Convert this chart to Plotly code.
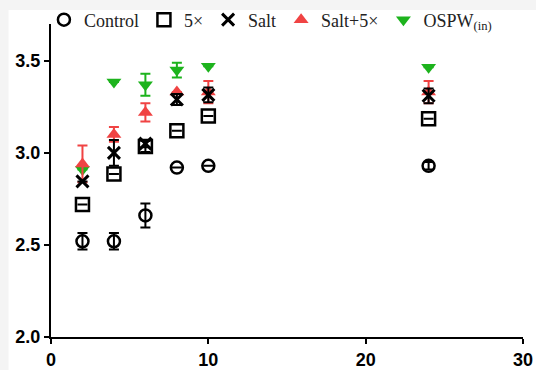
import plotly.graph_objects as go

hours = [2, 4, 6, 8, 10, 24]
control = [2.52, 2.52, 2.66, 2.92, 2.93, 2.93]
control_err = [0.045, 0.045, 0.065, 0.0, 0.0, 0.02]
fivex = [2.72, 2.885, 3.035, 3.12, 3.20, 3.185]
fivex_err = [0.0, 0.0, 0.03, 0.0, 0.0, 0.0]
salt = [2.845, 3.0, 3.05, 3.29, 3.315, 3.31]
salt_err = [0.0, 0.07, 0.02, 0.03, 0.04, 0.04]
salt5x = [2.94, 3.10, 3.22, 3.33, 3.33, 3.33]
salt5x_err = [0.10, 0.04, 0.05, 0.0, 0.06, 0.06]
ospw = [2.91, 3.385, 3.37, 3.45, 3.47, 3.465]
ospw_err = [0.0, 0.0, 0.06, 0.04, 0.0, 0.0]

names = ["Control", "5\u00d7", "Salt", "Salt+5\u00d7", "OSPW<sub>(in)</sub>"]

fig = go.Figure()

def add(y, err, name, symbol, color, size, lw, rank):
    fig.add_trace(go.Scatter(
        x=hours, y=y, name=name, mode="markers",
        marker=dict(symbol=symbol, size=size, color=color,
                    line=dict(color=color, width=lw)),
        error_y=dict(type="data", array=err, visible=True, color=color,
                     thickness=2, width=5),
        legendrank=rank,
    ))

add(ospw, ospw_err, names[4], "triangle-down", "#1db31d", 13, 0, 5)
add(salt5x, salt5x_err, names[3], "triangle-up", "#f04343", 13, 0, 4)
add(control, control_err, names[0], "circle-open", "black", 12, 2.5, 1)
add(fivex, fivex_err, names[1], "square-open", "black", 13, 2.5, 2)
add(salt, salt_err, names[2], "x-thin", "black", 12, 3, 3)

fig.add_shape(type="rect", xref="paper", yref="paper", x0=-0.09, x1=1.1,
              y0=-0.2, y1=1.045, fillcolor="white", line=dict(width=0),
              layer="below")

axis_common = dict(showgrid=False, zeroline=False, showline=True,
                   linecolor="black", linewidth=2, ticks="outside",
                   ticklen=5, tickwidth=2, tickcolor="black",
                   tickfont=dict(family="Liberation Sans", size=18,
                                 color="black", weight="bold"))

fig.update_layout(
    width=536, height=370,
    margin=dict(l=51, r=13, t=24, b=33, autoexpand=False),
    paper_bgcolor="#f4f4f4", plot_bgcolor="white",
    xaxis=dict(range=[0, 30], tickvals=[0, 10, 20, 30], **axis_common),
    yaxis=dict(range=[2.0, 3.7], tickvals=[2.0, 2.5, 3.0, 3.5],
               tickformat=".1f", **axis_common),
    legend=dict(orientation="h", x=-0.015, xanchor="left", y=1.072,
                yanchor="top", bgcolor="rgba(0,0,0,0)",
                font=dict(family="Liberation Serif", size=18, color="#222"),
                tracegroupgap=0, itemwidth=30),
    showlegend=True,
)

fig.write_html("out.html")
